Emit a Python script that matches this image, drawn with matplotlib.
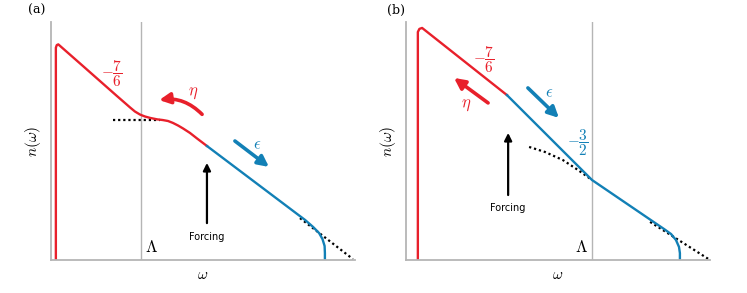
"""
Schematic wave-turbulence spectra n(omega): (a) forcing above Lambda, (b) below
"""

import matplotlib
matplotlib.use('Agg')
import matplotlib.pyplot as plt

plt.rcParams['mathtext.fontset'] = 'cm'

RED = '#e8202b'
BLUE = '#1280b6'
GRAY = '#b5b5b5'

# ---- panel (a) curves (axes units 0..10) ----
a_red_x = [0.16, 0.16, 0.19, 0.24, 1.06, 1.61, 2.16, 2.43, 2.60, 2.76, 2.93,
           3.09, 3.26, 3.49, 3.68, 3.85, 4.01, 4.18, 4.34, 4.57, 4.80, 5.13]
a_red_y = [0.00, 8.92, 9.03, 9.06, 8.14, 7.52, 6.90, 6.60, 6.41, 6.24, 6.11,
           6.03, 5.97, 5.91, 5.88, 5.84, 5.76, 5.65, 5.53, 5.34, 5.11, 4.79]
a_blue_x = [5.13, 8.36, 8.62, 8.82, 8.93, 9.00, 9.01, 9.01]
a_blue_y = [4.79, 1.68, 1.39, 1.13, 0.88, 0.59, 0.29, 0.00]
a_dot1_x = [2.04, 3.60]
a_dot1_y = [5.88, 5.88]
a_dot2_x = [8.19, 9.93]
a_dot2_y = [1.76, 0.04]
a_lambda = 2.96

# ---- panel (b) curves ----
b_red_x = [0.39, 0.39, 0.44, 0.53, 3.32]
b_red_y = [0.00, 9.58, 9.71, 9.75, 6.93]
b_blue_x = [3.32, 6.12, 8.49, 8.72, 8.88, 8.98, 9.01, 9.01]
b_blue_y = [6.93, 3.36, 1.30, 1.09, 0.84, 0.55, 0.29, 0.00]
b_dot1_x = [4.05, 4.57, 5.16, 5.66, 6.12]
b_dot1_y = [4.75, 4.54, 4.20, 3.78, 3.36]
b_dot2_x = [8.03, 10.0]
b_dot2_y = [1.60, 0.00]
b_lambda = 6.12


def setup_axes(ax, lam):
    ax.set_xlim(0, 10)
    ax.set_ylim(0, 10)
    ax.set_xticks([])
    ax.set_yticks([])
    for s in ['top', 'right']:
        ax.spines[s].set_visible(False)
    for s in ['left', 'bottom']:
        ax.spines[s].set_color(GRAY)
        ax.spines[s].set_linewidth(1.3)
    ax.axvline(lam, color=GRAY, lw=1.0, zorder=0)
    ax.set_xlabel(r'$\omega$', fontsize=11, labelpad=5)
    ax.set_ylabel(r'$n(\omega)$', fontsize=11, labelpad=6)


def arrow(ax, tail, tip, color, lw=2.6, ms=16, rad=0.0):
    ax.annotate('', xy=tip, xytext=tail,
                arrowprops=dict(arrowstyle='-|>', color=color, lw=lw,
                                mutation_scale=ms, shrinkA=0, shrinkB=0,
                                connectionstyle=f'arc3,rad={rad}'))


fig = plt.figure(figsize=(7.47, 2.93), dpi=100)
ax1 = fig.add_axes([51 / 747, 33 / 293, 304 / 747, 238 / 293])
ax2 = fig.add_axes([406 / 747, 33 / 293, 304 / 747, 238 / 293])

# panel (a)
setup_axes(ax1, a_lambda)
ax1.plot(a_dot1_x, a_dot1_y, ls=(0, (1, 1.3)), color='black', lw=1.6)
ax1.plot(a_dot2_x, a_dot2_y, ls=(0, (1, 1.3)), color='black', lw=1.6)
ax1.plot(a_red_x, a_red_y, color=RED, lw=1.7, solid_joinstyle='round')
ax1.plot(a_blue_x, a_blue_y, color=BLUE, lw=1.7, solid_joinstyle='round')
ax1.text(3.32, 0.55, r'$\Lambda$', fontsize=12, ha='center', va='center')
ax1.text(2.0, 7.82, r'$-\dfrac{7}{6}$', fontsize=11, color=RED, ha='center', va='center')
arrow(ax1, (4.97, 6.12), (3.56, 6.72), RED, rad=0.25)
ax1.text(4.67, 7.05, r'$\eta$', fontsize=12, color=RED, ha='center', va='center')
arrow(ax1, (6.05, 5.0), (7.17, 3.91), BLUE)
ax1.text(6.78, 4.87, r'$\epsilon$', fontsize=12, color=BLUE, ha='center', va='center')
arrow(ax1, (5.13, 1.55), (5.13, 4.08), 'black', lw=1.6, ms=11)
ax1.text(5.13, 0.97, 'Forcing', fontsize=7, ha='center', va='center')

# panel (b)
setup_axes(ax2, b_lambda)
ax2.plot(b_dot1_x, b_dot1_y, ls=(0, (1, 1.3)), color='black', lw=1.6)
ax2.plot(b_dot2_x, b_dot2_y, ls=(0, (1, 1.3)), color='black', lw=1.6)
ax2.plot(b_red_x, b_red_y, color=RED, lw=1.7, solid_joinstyle='round')
ax2.plot(b_blue_x, b_blue_y, color=BLUE, lw=1.7, solid_joinstyle='round')
ax2.text(5.76, 0.55, r'$\Lambda$', fontsize=12, ha='center', va='center')
ax2.text(2.57, 8.40, r'$-\dfrac{7}{6}$', fontsize=11, color=RED, ha='center', va='center')
ax2.text(5.66, 4.92, r'$-\dfrac{3}{2}$', fontsize=11, color=BLUE, ha='center', va='center')
arrow(ax2, (2.70, 6.60), (1.58, 7.65), RED)
ax2.text(1.97, 6.55, r'$\eta$', fontsize=12, color=RED, ha='center', va='center')
arrow(ax2, (4.01, 7.23), (5.03, 5.97), BLUE)
ax2.text(4.70, 7.05, r'$\epsilon$', fontsize=12, color=BLUE, ha='center', va='center')
arrow(ax2, (3.36, 2.73), (3.36, 5.34), 'black', lw=1.6, ms=11)
ax2.text(3.36, 2.18, 'Forcing', fontsize=7, ha='center', va='center')

fig.text(37 / 747, 1 - 10 / 293, '(a)', fontsize=9, family='serif', ha='center', va='center')
fig.text(396 / 747, 1 - 10 / 293, '(b)', fontsize=9, family='serif', ha='center', va='center')

fig.savefig('out.png', dpi=100)
plt.close(fig)
